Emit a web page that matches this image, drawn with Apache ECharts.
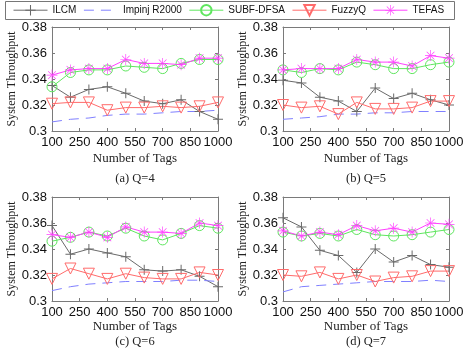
<!DOCTYPE html>
<html>
<head>
<meta charset="utf-8">
<script src="https://cdn.jsdelivr.net/npm/echarts@6/dist/echarts.min.js"></script>
<style>
  html, body { margin: 0; padding: 0; background: #fff; }
  #chart { width: 467px; height: 349px; }
</style>
</head>
<body>
<div id="chart"></div>
<script>
// number of tags on the x axis, and where the ticks sit
const tagCounts = [100, 200, 300, 400, 500, 600, 700, 800, 900, 1000];
const xTicks = [100, 250, 400, 550, 700, 850, 1000];
const seriesNames = ['ILCM', 'Impinj R2000', 'SUBF-DFSA', 'FuzzyQ', 'TEFAS'];
const captions = ['(a) Q=4', '(b) Q=5', '(c) Q=6', '(d) Q=7'];

// (a) Q=4
const ilcmQ4   = [0.335, 0.326, 0.332, 0.334, 0.329, 0.323, 0.321, 0.324, 0.315, 0.309];
const impinjQ4 = [0.307, 0.309, 0.310, 0.312, 0.313, 0.313, 0.314, 0.315, 0.315, 0.316];
const subfQ4   = [0.334, 0.345, 0.347, 0.347, 0.350, 0.349, 0.348, 0.352, 0.355, 0.355];
const fuzzyQ4  = [0.321, 0.322, 0.322, 0.316, 0.318, 0.318, 0.319, 0.318, 0.319, 0.322];
const tefasQ4  = [0.343, 0.347, 0.348, 0.348, 0.355, 0.352, 0.352, 0.351, 0.356, 0.356];

// (b) Q=5
const ilcmQ5   = [0.339, 0.337, 0.326, 0.323, 0.315, 0.333, 0.325, 0.329, 0.324, 0.320];
const impinjQ5 = [0.309, 0.310, 0.311, 0.313, 0.313, 0.314, 0.314, 0.315, 0.315, 0.315];
const subfQ5   = [0.347, 0.345, 0.348, 0.347, 0.353, 0.351, 0.348, 0.348, 0.351, 0.353];
const fuzzyQ5  = [0.320, 0.318, 0.319, 0.313, 0.322, 0.317, 0.317, 0.318, 0.323, 0.323];
const tefasQ5  = [0.347, 0.348, 0.348, 0.348, 0.355, 0.353, 0.353, 0.350, 0.358, 0.356];

// (c) Q=6
const ilcmQ6   = [0.358, 0.336, 0.340, 0.337, 0.334, 0.324, 0.323, 0.324, 0.319, 0.311];
const impinjQ6 = [0.308, 0.311, 0.313, 0.314, 0.315, 0.315, 0.315, 0.316, 0.316, 0.315];
const subfQ6   = [0.346, 0.349, 0.353, 0.350, 0.356, 0.350, 0.347, 0.352, 0.358, 0.356];
const fuzzyQ6  = [0.317, 0.325, 0.321, 0.317, 0.321, 0.318, 0.317, 0.317, 0.322, 0.320];
const tefasQ6  = [0.351, 0.349, 0.353, 0.349, 0.357, 0.353, 0.353, 0.352, 0.360, 0.358];

// (d) Q=7
const ilcmQ7   = [0.364, 0.357, 0.339, 0.335, 0.322, 0.340, 0.330, 0.335, 0.328, 0.326];
const impinjQ7 = [0.307, 0.311, 0.312, 0.313, 0.314, 0.315, 0.315, 0.315, 0.316, 0.315];
const subfQ7   = [0.353, 0.350, 0.352, 0.350, 0.355, 0.351, 0.350, 0.351, 0.353, 0.355];
const fuzzyQ7  = [0.320, 0.319, 0.322, 0.317, 0.320, 0.315, 0.318, 0.319, 0.323, 0.323];
const tefasQ7  = [0.354, 0.350, 0.353, 0.351, 0.358, 0.354, 0.356, 0.353, 0.360, 0.359];

const panels = [
    [ilcmQ4, impinjQ4, subfQ4, fuzzyQ4, tefasQ4],
    [ilcmQ5, impinjQ5, subfQ5, fuzzyQ5, tefasQ5],
    [ilcmQ6, impinjQ6, subfQ6, fuzzyQ6, tefasQ6],
    [ilcmQ7, impinjQ7, subfQ7, fuzzyQ7, tefasQ7]
];

// layout of the 2x2 plots (top row has a bit more room under it)
const boxes = [
    { left: 52, top: 27, nameGap: 21, capGap: 48 }, { left: 283, top: 27, nameGap: 21, capGap: 48 },
    { left: 52, top: 197, nameGap: 17, capGap: 41 }, { left: 283, top: 197, nameGap: 17, capGap: 41 }
];
const plotW = 166, plotH = 104;

const axisGray = '#7a7a7a';
const sansFont = '"Liberation Sans", Arial, sans-serif';
const serifFont = '"Liberation Serif", "Times New Roman", serif';

const plusPath = 'path://M0,9H20V11H0Z M9,0H11V20H9Z';
const starPath = 'path://M0,9.4H20V10.6H0Z M9.4,0H10.6V20H9.4Z ' +
    'M2.58,3.42L3.42,2.58L17.42,16.58L16.58,17.42Z ' +
    'M17.42,3.42L16.58,2.58L2.58,16.58L3.42,17.42Z M8.3,8.3H11.7V11.7H8.3Z';

const styles = [
    { color: '#6a6a6a', symbol: plusPath, size: 10, fill: '#6a6a6a', dash: 'solid' },
    { color: '#8080ff', symbol: 'none', size: 0, fill: '#8080ff', dash: [10, 7] },
    { color: '#5fe65f', symbol: 'circle', size: 10, fill: 'transparent', dash: 'solid' },
    { color: '#ff6b6b', symbol: 'triangle', size: 11, fill: 'transparent', dash: 'solid', rotate: 180 },
    { color: '#ff40ff', symbol: starPath, size: 11, fill: '#ff40ff', dash: 'solid' }
];

const grids = [], xAxes = [], yAxes = [], series = [], graphics = [];

boxes.forEach(function (b, i) {
    grids.push({ left: b.left, top: b.top, width: plotW, height: plotH });
    const xBase = {
        type: 'value', gridIndex: i, min: 100, max: 1000,
        axisLine: { show: true, onZero: false, lineStyle: { color: axisGray, width: 1 } },
        axisTick: { show: true, inside: true, length: 3, customValues: xTicks, lineStyle: { color: axisGray } },
        splitLine: { show: false }
    };
    xAxes.push(Object.assign({}, xBase, {
        position: 'bottom',
        axisLabel: {
            customValues: xTicks, margin: 5, color: '#111', fontSize: 13, fontFamily: sansFont,
            formatter: function (v) { return String(v); }
        },
        name: 'Number of Tags', nameLocation: 'middle', nameGap: b.nameGap,
        nameTextStyle: { fontFamily: serifFont, fontSize: 13, color: '#222' }
    }));
    xAxes.push(Object.assign({}, xBase, { position: 'top', axisLabel: { show: false } }));

    const yBase = {
        type: 'value', gridIndex: i, min: 0.3, max: 0.38, interval: 0.02,
        axisLine: { show: true, onZero: false, lineStyle: { color: axisGray, width: 1 } },
        axisTick: { show: true, inside: true, length: 3, lineStyle: { color: axisGray } },
        splitLine: { show: false }
    };
    yAxes.push(Object.assign({}, yBase, {
        position: 'left',
        axisLabel: { margin: 5, color: '#111', fontSize: 13, fontFamily: sansFont },
        name: 'System Throughput', nameLocation: 'middle', nameGap: 34,
        nameTextStyle: { fontFamily: serifFont, fontSize: 12, color: '#222' }
    }));
    yAxes.push(Object.assign({}, yBase, { position: 'right', axisLabel: { show: false } }));

    panels[i].forEach(function (vals, k) {
        const s = styles[k];
        series.push({
            name: seriesNames[k],
            type: 'line',
            xAxisIndex: i * 2,
            yAxisIndex: i * 2,
            data: tagCounts.map(function (t, j) { return [t, vals[j]]; }),
            symbol: s.symbol,
            symbolSize: s.size,
            symbolRotate: s.rotate || 0,
            showAllSymbol: true,
            lineStyle: { color: s.color, width: 1, type: s.dash },
            itemStyle: { color: s.fill, borderColor: s.color, borderWidth: s.fill === 'transparent' ? 1 : 0 },
            emphasis: { disabled: true },
            animation: false
        });
    });

    graphics.push({
        type: 'text',
        x: b.left + plotW / 2,
        y: b.top + plotH + b.capGap,
        style: {
            text: captions[i], fill: '#222', font: '12.5px ' + serifFont,
            textAlign: 'center', textVerticalAlign: 'middle'
        }
    });
});

// legend frame
graphics.push({
    type: 'rect',
    shape: { x: 5.5, y: 1.5, width: 449, height: 18 },
    style: { fill: 'none', stroke: '#777', lineWidth: 1 }
});

// the dashed series has no marker, so hide its legend symbol
const legendData = seriesNames.map(function (n) {
    return n === 'Impinj R2000' ? { name: n, itemStyle: { opacity: 0 } } : { name: n };
});

const chart = echarts.init(document.getElementById('chart'), null, { renderer: 'canvas' });
chart.setOption({
    animation: false,
    backgroundColor: '#fff',
    legend: {
        data: legendData,
        left: 13,
        top: 4,
        padding: 0,
        itemWidth: 34,
        itemHeight: 13,
        itemGap: 7,
        lineStyle: { width: 1 },
        textStyle: { fontSize: 10, fontFamily: sansFont, color: '#111' }
    },
    grid: grids,
    xAxis: xAxes,
    yAxis: yAxes,
    series: series,
    graphic: graphics
});
</script>
</body>
</html>
